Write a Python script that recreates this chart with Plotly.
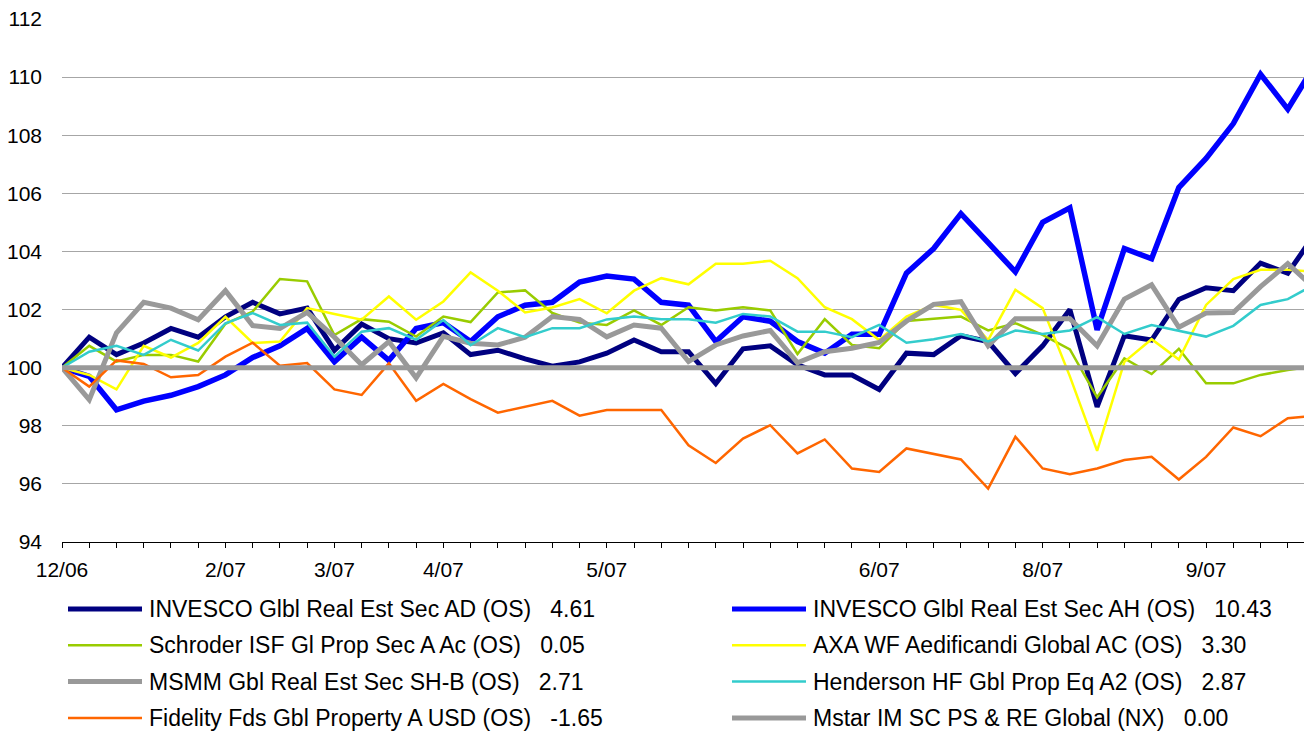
import plotly.graph_objects as go

# ---------------- data ----------------
n_points = 47
x_idx = list(range(n_points))
tick_labels = {0: "12/06", 6: "2/07", 10: "3/07", 14: "4/07", 20: "5/07",
               30: "6/07", 36: "8/07", 42: "9/07"}

invesco_ad = [100.0, 101.05, 100.45, 100.85, 101.35, 101.05, 101.75, 102.25, 101.85, 102.05,
              100.6, 101.5, 101.0, 100.85, 101.2, 100.45, 100.6, 100.3, 100.05, 100.2,
              100.5, 100.95, 100.55, 100.55, 99.45, 100.65, 100.75, 100.1, 99.75, 99.75,
              99.25, 100.5, 100.45, 101.1, 100.9, 99.8, 100.75, 102.0, 98.65, 101.1,
              100.95, 102.35, 102.75, 102.65, 103.6, 103.25, 104.61]
invesco_ah = [100.0, 99.7, 98.55, 98.85, 99.05, 99.35, 99.75, 100.35, 100.75, 101.35,
              100.2, 101.05, 100.25, 101.35, 101.55, 100.9, 101.75, 102.15, 102.25, 102.95,
              103.15, 103.05, 102.25, 102.15, 100.9, 101.75, 101.6, 100.9, 100.5, 101.15,
              101.15, 103.25, 104.1, 105.3, 104.3, 103.3, 105.0, 105.5, 101.3, 104.1,
              103.75, 106.2, 107.2, 108.4, 110.1, 108.9, 110.43]
schroder = [100.0, 100.75, 100.21, 100.44, 100.44, 100.21, 101.51, 101.93, 103.05, 102.97,
            101.12, 101.67, 101.58, 101.07, 101.76, 101.57, 102.59, 102.66, 101.88, 101.55,
            101.47, 101.97, 101.47, 102.08, 101.97, 102.08, 101.97, 100.47, 101.67, 100.78,
            100.67, 101.61, 101.68, 101.76, 101.28, 101.53, 101.13, 100.63, 98.98, 100.32,
            99.78, 100.65, 99.46, 99.46, 99.75, 99.92, 100.05]
axa = [100.0, 99.75, 99.25, 100.75, 100.35, 100.85, 101.75, 100.85, 100.9, 102.05,
       101.85, 101.65, 102.45, 101.65, 102.28, 103.28, 102.65, 101.9, 102.07, 102.36,
       101.87, 102.65, 103.08, 102.87, 103.58, 103.58, 103.68, 103.08, 102.08, 101.67,
       100.95, 101.76, 102.16, 101.99, 100.95, 102.68, 102.05, 99.7, 97.14, 100.2,
       100.98, 100.28, 102.16, 103.05, 103.37, 103.37, 103.30]
msmm = [100.0, 98.9, 101.2, 102.25, 102.05, 101.65, 102.65, 101.45, 101.35, 101.9,
        101.05, 100.1, 100.9, 99.65, 101.08, 100.84, 100.78, 101.05, 101.76, 101.66,
        101.06, 101.47, 101.36, 100.21, 100.78, 101.09, 101.28, 100.17, 100.55, 100.67,
        100.87, 101.6, 102.18, 102.27, 100.75, 101.68, 101.68, 101.68, 100.75, 102.36,
        102.85, 101.39, 101.88, 101.9, 102.79, 103.58, 102.71]
henderson = [100.0, 100.55, 100.75, 100.44, 100.96, 100.59, 101.53, 101.88, 101.47, 101.55,
             100.38, 101.24, 101.36, 100.96, 101.64, 100.77, 101.36, 101.05, 101.36, 101.36,
             101.66, 101.76, 101.67, 101.67, 101.55, 101.85, 101.76, 101.24, 101.24, 101.05,
             101.47, 100.86, 100.98, 101.16, 100.9, 101.28, 101.16, 101.28, 101.74, 101.16,
             101.47, 101.28, 101.07, 101.44, 102.16, 102.36, 102.87]
fidelity = [100.0, 99.35, 100.25, 100.13, 99.67, 99.75, 100.38, 100.86, 100.07, 100.16,
            99.25, 99.06, 100.15, 98.86, 99.44, 98.92, 98.45, 98.65, 98.86, 98.35,
            98.54, 98.54, 98.54, 97.33, 96.72, 97.56, 98.02, 97.05, 97.53, 96.53,
            96.41, 97.22, 97.02, 96.84, 95.84, 97.62, 96.53, 96.33, 96.53, 96.82,
            96.93, 96.15, 96.93, 97.94, 97.64, 98.26, 98.35]
mstar = [100.0] * n_points

series_names = ["INVESCO Glbl Real Est Sec AD (OS)", "INVESCO Glbl Real Est Sec AH (OS)",
                "Schroder ISF Gl Prop Sec A Ac (OS)", "AXA WF Aedificandi Global AC (OS)",
                "MSMM Gbl Real Est Sec SH-B (OS)", "Henderson HF Gbl Prop Eq A2 (OS)",
                "Fidelity Fds Gbl Property A USD (OS)", "Mstar IM SC PS & RE Global (NX)"]
series_perf = ["4.61", "10.43", "0.05", "3.30", "2.71", "2.87", "-1.65", "0.00"]
series_values = [invesco_ad, invesco_ah, schroder, axa, msmm, henderson, fidelity, mstar]

# ---------------- styles ----------------
colors = ["#000080", "#0000FF", "#99CC00", "#FFFF00", "#999999", "#33CCCC", "#FF6600", "#999999"]
widths = [5, 5.5, 2.5, 2.5, 5, 2.5, 2.5, 5]
FONT = "Liberation Sans, Arial, sans-serif"

W, H = 1304, 731
ML, MR, MT, MB = 62, 0, 19, 189
plot_w = W - ML - MR
plot_h = H - MT - MB
px_per_idx = 27.24

fig = go.Figure()
for name, vals, c, w in zip(series_names, series_values, colors, widths):
    fig.add_trace(go.Scatter(x=x_idx, y=vals, mode="lines", name=name,
                             line=dict(color=c, width=w), showlegend=False,
                             hoverinfo="skip"))

# ---------------- manual legend (two columns, row-major) ----------------
def px2paper_x(px):
    return (px - ML) / plot_w

def px2paper_y(py):
    return (MT + plot_h - py) / plot_h

col_line_x = [(68, 142), (732, 806)]
col_text_x = [147, 811]
row_y0, row_dy = 609, 36.3
shapes = []
annotations = []
for i, (name, perf, c, w) in enumerate(zip(series_names, series_perf, colors, widths)):
    col = i % 2
    row = i // 2
    py = row_y0 + row * row_dy
    lx0, lx1 = col_line_x[col]
    shapes.append(dict(type="line", xref="paper", yref="paper",
                       x0=px2paper_x(lx0), x1=px2paper_x(lx1),
                       y0=px2paper_y(py), y1=px2paper_y(py),
                       line=dict(color=c, width=min(w, 5))))
    annotations.append(dict(xref="paper", yref="paper", x=px2paper_x(col_text_x[col]),
                            y=px2paper_y(py), xanchor="left", yanchor="middle",
                            showarrow=False,
                            text=name + "\u00a0\u00a0\u00a0" + perf,
                            font=dict(family=FONT, size=23, color="#000000")))

fig.update_layout(
    width=W, height=H,
    margin=dict(l=ML, r=MR, t=MT, b=MB, pad=0),
    paper_bgcolor="white", plot_bgcolor="white",
    showlegend=False,
    shapes=shapes, annotations=annotations,
    xaxis=dict(range=[0, plot_w / px_per_idx],
               tickmode="array", tickvals=x_idx,
               ticktext=[tick_labels.get(i, "") for i in x_idx],
               ticks="outside", ticklen=5, tickwidth=1, tickcolor="#000000",
               showline=True, linecolor="#000000", linewidth=1,
               showgrid=False, zeroline=False,
               ticklabelstandoff=4,
               tickfont=dict(family=FONT, size=21, color="#000000")),
    yaxis=dict(range=[94, 112], tickmode="array",
               tickvals=[94, 96, 98, 100, 102, 104, 106, 108, 110, 112],
               ticks="", showline=False, zeroline=False,
               showgrid=True, gridcolor="#A6A6A6", gridwidth=1,
               ticklabelstandoff=19,
               tickfont=dict(family=FONT, size=21, color="#000000")),
)

fig.write_html("out.html",
               config={"displayModeBar": False},
               post_script="document.body.style.margin='0px';document.body.style.overflow='hidden';")
